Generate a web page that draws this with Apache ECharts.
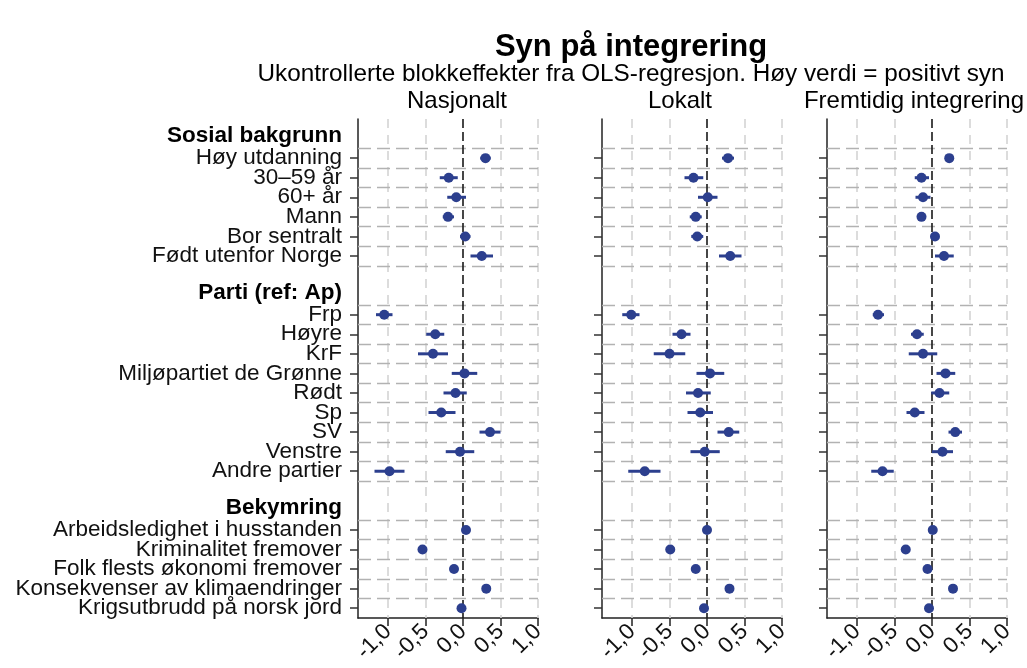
<!DOCTYPE html>
<html>
<head>
<meta charset="utf-8">
<script src="https://cdn.jsdelivr.net/npm/echarts@6/dist/echarts.min.js"></script>
<style>
  html, body { margin: 0; padding: 0; background: #ffffff; }
  #chart { width: 1027px; height: 668px; }
</style>
</head>
<body>
<div id="chart"></div>
<script>
// Rows from top to bottom: group headers, variables and blank spacer rows
const rowLabels = [
  'Sosial bakgrunn', 'Høy utdanning', '30–59 år', '60+ år', 'Mann', 'Bor sentralt', 'Født utenfor Norge', '',
  'Parti (ref: Ap)', 'Frp', 'Høyre', 'KrF', 'Miljøpartiet de Grønne', 'Rødt', 'Sp', 'SV', 'Venstre', 'Andre partier', '',
  'Bekymring', 'Arbeidsledighet i husstanden', 'Kriminalitet fremover', 'Folk flests økonomi fremover',
  'Konsekvenser av klimaendringer', 'Krigsutbrudd på norsk jord'
];
const groupHeaders = ['Sosial bakgrunn', 'Parti (ref: Ap)', 'Bekymring'];
const panelTitles = ['Nasjonalt', 'Lokalt', 'Fremtidig integrering'];
const xTicks = [-1, -0.5, 0, 0.5, 1];

// Estimates and 95% intervals, one entry per variable in row order
const nasjonaltEst = [0.30, -0.19, -0.09, -0.20, 0.03, 0.25, -1.05, -0.37, -0.40, 0.02, -0.10, -0.29, 0.36, -0.04, -0.98, 0.04, -0.54, -0.12, 0.31, -0.02];
const nasjonaltLo  = [0.23, -0.31, -0.21, -0.27, -0.04, 0.10, -1.16, -0.49, -0.60, -0.15, -0.26, -0.46, 0.22, -0.23, -1.18, 0.00, -0.58, -0.16, 0.27, -0.06];
const nasjonaltHi  = [0.37, -0.07, 0.04, -0.12, 0.10, 0.40, -0.94, -0.25, -0.20, 0.19, 0.05, -0.10, 0.50, 0.15, -0.78, 0.08, -0.50, -0.08, 0.35, 0.02];

const lokaltEst = [0.28, -0.18, 0.01, -0.15, -0.13, 0.31, -1.01, -0.34, -0.50, 0.04, -0.12, -0.09, 0.29, -0.03, -0.83, 0.00, -0.49, -0.15, 0.30, -0.04];
const lokaltLo  = [0.20, -0.30, -0.12, -0.23, -0.21, 0.16, -1.13, -0.46, -0.71, -0.14, -0.28, -0.26, 0.14, -0.22, -1.05, -0.04, -0.53, -0.19, 0.26, -0.08];
const lokaltHi  = [0.36, -0.05, 0.14, -0.07, -0.05, 0.46, -0.90, -0.22, -0.29, 0.23, 0.05, 0.08, 0.43, 0.17, -0.62, 0.04, -0.45, -0.11, 0.34, 0.00];

const fremtidigEst = [0.23, -0.14, -0.12, -0.14, 0.04, 0.16, -0.72, -0.20, -0.12, 0.18, 0.10, -0.23, 0.31, 0.14, -0.66, 0.01, -0.35, -0.06, 0.28, -0.04];
const fremtidigLo  = [0.19, -0.23, -0.22, -0.19, 0.00, 0.04, -0.79, -0.28, -0.31, 0.06, -0.01, -0.34, 0.22, 0.00, -0.81, -0.03, -0.39, -0.10, 0.24, -0.08];
const fremtidigHi  = [0.27, -0.04, -0.02, -0.09, 0.08, 0.29, -0.64, -0.11, 0.07, 0.31, 0.23, -0.10, 0.40, 0.28, -0.51, 0.05, -0.31, -0.02, 0.32, 0.00];

const panels = [
  { est: nasjonaltEst, lo: nasjonaltLo, hi: nasjonaltHi },
  { est: lokaltEst, lo: lokaltLo, hi: lokaltHi },
  { est: fremtidigEst, lo: fremtidigLo, hi: fremtidigHi }
];

const FONT = "'Liberation Sans', Arial, Helvetica, sans-serif";
const NAVY = '#2c3f8e';
const Y_MIN = -1, Y_MAX = 24.5;

// Row indices of variables (rows that carry a point) and of labelled rows
const itemRows = [];
const labelRows = [];
rowLabels.forEach((l, i) => {
  if (l) labelRows.push(i);
  if (l && !groupHeaders.includes(l)) itemRows.push(i);
});
// Empty labels at both axis ends, so the min/max label logic never hides a real row
const labelValues = [Y_MIN, ...labelRows, Y_MAX];

// Horizontal grid lines sit half a row above and below each variable row
const hLineSet = new Set();
itemRows.forEach(r => { hLineSet.add(r - 0.5); hLineSet.add(r + 0.5); });
const hLines = [...hLineSet].filter(v => v < Y_MAX).sort((a, b) => a - b);

const gridLefts = [358, 602, 827];
const gridWidth = 180;
const gridTop = 119;
const gridHeight = 499;
const titleCenters = [457, 680, 914];

const fmtX = v => (v < 0 ? '-' : '') + Math.abs(v).toFixed(1).replace('.', ',');

const grid = [], xAxis = [], yAxis = [], series = [];

panels.forEach((p, k) => {
  grid.push({ left: gridLefts[k], top: gridTop, width: gridWidth, height: gridHeight, containLabel: false });

  xAxis.push({
    type: 'value', gridIndex: k, min: -1.4, max: 1.0,
    axisLine: { show: true, onZero: false, lineStyle: { color: '#222', width: 1.5 } },
    axisTick: { show: true, customValues: xTicks, length: 8, lineStyle: { color: '#222', width: 1.5 } },
    axisLabel: {
      show: true, customValues: xTicks, rotate: 45, margin: 10,
      showMinLabel: true, showMaxLabel: true,
      formatter: fmtX, fontFamily: FONT, fontSize: 22.5, color: '#111'
    },
    splitLine: { show: false }
  });

  yAxis.push({
    type: 'value', gridIndex: k, inverse: true, min: Y_MIN, max: Y_MAX,
    axisLine: { show: true, onZero: false, lineStyle: { color: '#222', width: 1.5 } },
    axisTick: { show: true, customValues: itemRows, length: 8, lineStyle: { color: '#333', width: 1.5 } },
    axisLabel: {
      show: k === 0, customValues: labelValues, margin: 16,
      hideOverlap: false,
      fontFamily: FONT, fontSize: 22.5, color: '#111',
      formatter: v => {
        if (v !== Math.round(v)) return '';
        const l = rowLabels[v] || '';
        return groupHeaders.includes(l) ? '{h|' + l + '}' : l;
      },
      rich: {
        h: { fontFamily: FONT, fontSize: 22.5, fontWeight: 'bold', color: '#000', padding: [0, 0, 5, 0] }
      }
    },
    splitLine: { show: false }
  });

  // Grid lines and the dashed zero reference line, kept beneath the marks
  const lineData = [];
  xTicks.filter(v => v !== 0).forEach(v => lineData.push({
    xAxis: v, lineStyle: { color: '#d4d4d4', width: 1.6, type: [9, 7] }
  }));
  hLines.forEach(v => lineData.push({
    yAxis: v, lineStyle: { color: '#b2b2b2', width: 1.4, type: [13, 6] }
  }));
  lineData.push({ xAxis: 0, lineStyle: { color: '#1a1a1a', width: 1.6, type: [9, 4] } });

  series.push({
    type: 'scatter', xAxisIndex: k, yAxisIndex: k, data: [], z: 1, silent: true,
    markLine: { z: 1, symbol: ['none', 'none'], silent: true, animation: false, label: { show: false }, data: lineData }
  });

  // Confidence intervals
  series.push({
    type: 'custom', xAxisIndex: k, yAxisIndex: k, z: 6, silent: true,
    data: itemRows.map((r, i) => [p.lo[i], p.hi[i], r]),
    encode: { x: [0, 1], y: 2 },
    renderItem: (params, api) => {
      const a = api.coord([api.value(0), api.value(2)]);
      const b = api.coord([api.value(1), api.value(2)]);
      return {
        type: 'line',
        shape: { x1: a[0], y1: a[1], x2: b[0], y2: b[1] },
        style: { stroke: NAVY, lineWidth: 3 }
      };
    }
  });

  // Point estimates
  series.push({
    type: 'scatter', xAxisIndex: k, yAxisIndex: k, z: 7, silent: true,
    symbol: 'circle', symbolSize: 10,
    itemStyle: { color: NAVY, opacity: 1 },
    data: itemRows.map((r, i) => [p.est[i], r])
  });
});

const textEl = (text, x, y, size, weight) => ({
  type: 'text', x: x, y: y, silent: true,
  style: {
    text: text, font: weight + ' ' + size + 'px ' + FONT, fill: '#000',
    align: 'center', verticalAlign: 'middle', textAlign: 'center', textVerticalAlign: 'middle'
  }
});

const graphic = [
  textEl('Syn på integrering', 631, 47, 31, 'bold'),
  textEl('Ukontrollerte blokkeffekter fra OLS-regresjon. Høy verdi = positivt syn', 631, 74, 24.3, 'normal')
];
panelTitles.forEach((t, k) => graphic.push(textEl(t, titleCenters[k], 101, 24, 'normal')));

const chart = echarts.init(document.getElementById('chart'), null, { renderer: 'canvas' });
chart.setOption({
  animation: false,
  backgroundColor: '#ffffff',
  textStyle: { fontFamily: FONT },
  grid, xAxis, yAxis, series, graphic
});
</script>
</body>
</html>
